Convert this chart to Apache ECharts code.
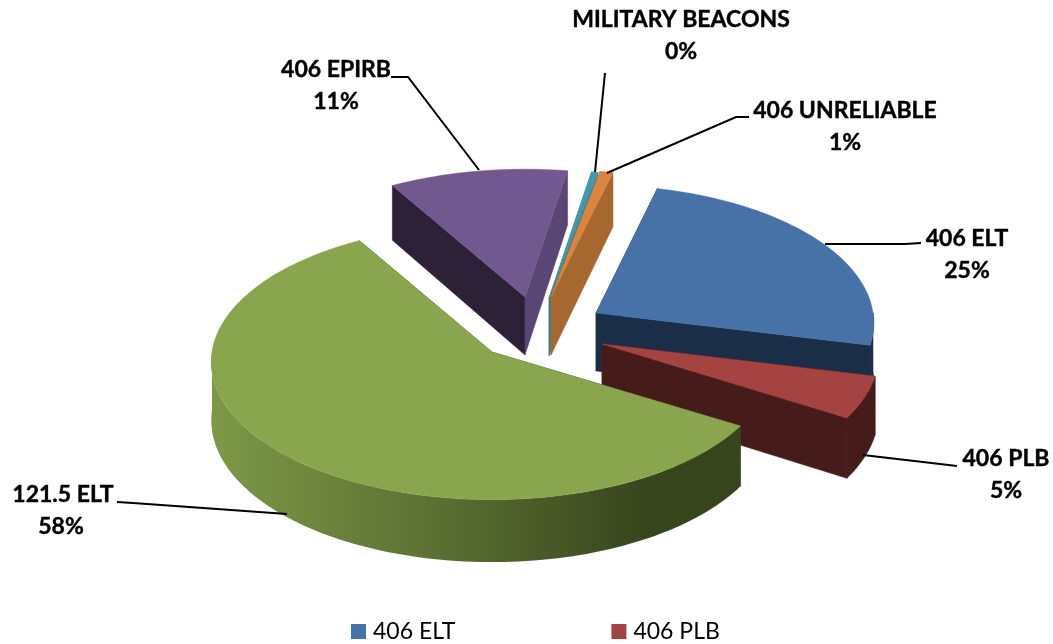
<!DOCTYPE html>
<html><head><meta charset="utf-8">
<style>html,body{margin:0;padding:0;background:#fff}#c{width:1053px;height:644px}</style>
<script src="https://cdn.jsdelivr.net/npm/echarts@6/dist/echarts.min.js"></script>
</head><body><div id="c"></div>
<script>
// Data
const sliceNames = ['406 ELT','406 PLB','121.5 ELT','406 EPIRB','MILITARY BEACONS','406 UNRELIABLE'];
const sliceValues = [24.9, 5.0, 57.9, 11.0, 0.4, 0.8];
const legendNames = ['406 ELT','406 PLB'];

// Styles
const topColors = ['#4672a8','#a54341','#89a54e','#71588f','#4198af','#db843d'];
const startWallColors = ['#1b2e47','#451c1a','#37451c','#2c2137','#357f93','#a6682e'];
const endWallColors = ['#1b2e47','#451c1a','#37451c','#5a4674','#357f93','#a6682e'];
const outerWallColors = ['#1b2e47','#451c1a',null,'#2c2137','#357f93','#a6682e'];
const drawOrder = [4,5,6,1,2,3]; // z per slice: back ones first, green in front

// Layout: exploded apex of every slice, projection, labels, leaders
const apexes = [[596,313],[602,344],[492,352],[525,297],[549,298],[551,297]];
const radiiX = [277,276,280,280,280,280];
const startAngle = 13.7, ry = 137, persp = 0.072, depth = 58;
const labelPos = [[967,239],[1006,459],[63,495],[336,70],[681,20],[845,111]];
const labelPct = [[967,271],[1006,491],[61,527],[336,102],[681,52],[845,143]];
const leaders = [
  [[921,243],[905,244],[825,244]],
  [[957,466],[940,464],[863,455]],
  [[117,502],[133,503],[287,514]],
  [[391,77],[408,77],[479,170]],
  [[605,73],[595,172]],
  [[749,117],[736,117],[607,173]]
];

const total = sliceValues.reduce((a,b)=>a+b,0);
function spanOf(i){
  let a = startAngle;
  for(let k=0;k<i;k++) a += sliceValues[k]/total*360;
  return [a, a + sliceValues[i]/total*360];
}
function proj(i, deg, down){
  const apex = apexes[i], t = deg*Math.PI/180, c = Math.cos(t), s = 1/(1+persp*c);
  return [apex[0]+radiiX[i]*Math.sin(t)*s, apex[1]-ry*c*s+down*s];
}
function arcPts(i, a0, a1, down){
  const n = Math.max(2, Math.ceil((a1-a0)/1.5)), out = [];
  for(let j=0;j<=n;j++) out.push(proj(i, a0+(a1-a0)*j/n, down));
  return out;
}
function makeRender(i){
  return function(){
    const apex = apexes[i], [a0,a1] = spanOf(i), kids = [];
    const poly = (points, fill) => kids.push({type:'polygon', shape:{points}, style:{fill, stroke:fill, lineWidth:0.5}, silent:true});
    const bottomApex = [apex[0], apex[1]+depth];
    poly([apex, proj(i,a0,0), proj(i,a0,depth), bottomApex], startWallColors[i]);
    poly([apex, proj(i,a1,0), proj(i,a1,depth), bottomApex], endWallColors[i]);
    // outer wall: only the front half of the rim is visible
    const f0 = Math.max(a0,90), f1 = Math.min(a1,270);
    if(f1 > f0){
      const top = arcPts(i,f0,f1,0), low = arcPts(i,f0,f1,depth).reverse();
      const solid = outerWallColors[i];
      if(solid) poly(top.concat(low), solid);
      else kids.push({type:'polygon', shape:{points:top.concat(low)}, silent:true, style:{
        fill:new echarts.graphic.LinearGradient(212,0,740,0,[
          {offset:0,color:'#7d9947'},{offset:0.5,color:'#55682f'},{offset:0.82,color:'#37451c'},{offset:1,color:'#37451c'}],true)}});
    }
    poly([apex].concat(arcPts(i,a0,a1,0)), topColors[i]);
    kids.push({type:'polyline', shape:{points:leaders[i]}, style:{stroke:'#000',lineWidth:2,fill:'none'}, silent:true});
    const base = {font:'bold 23px Lato', fill:'#000', stroke:'#000', lineWidth:0.4, align:'center', verticalAlign:'middle'};
    kids.push({type:'text', style:Object.assign({text:sliceNames[i], x:labelPos[i][0], y:labelPos[i][1]},base), silent:true});
    kids.push({type:'text', style:Object.assign({text:Math.round(sliceValues[i]/total*100)+'%', x:labelPct[i][0], y:labelPct[i][1]},base), silent:true});
    return {type:'group', children:kids};
  };
}
const chart = echarts.init(document.getElementById('c'), null, {renderer:'canvas'});
chart.setOption({
  animation:false,
  backgroundColor:'#fff',
  legend:{
    data:legendNames, left:346, top:615, icon:'rect', itemWidth:15, itemHeight:15, itemGap:156, selectedMode:false,
    textStyle:{fontFamily:'Lato', fontSize:23, color:'#000', padding:[0,0,0,2]}
  },
  series:sliceNames.map((name,i)=>({
    type:'custom', name, coordinateSystem:'none', z:drawOrder[i],
    itemStyle:{color:topColors[i]},
    data:[[sliceValues[i]]],
    renderItem:makeRender(i)
  }))
});
</script></body></html>
